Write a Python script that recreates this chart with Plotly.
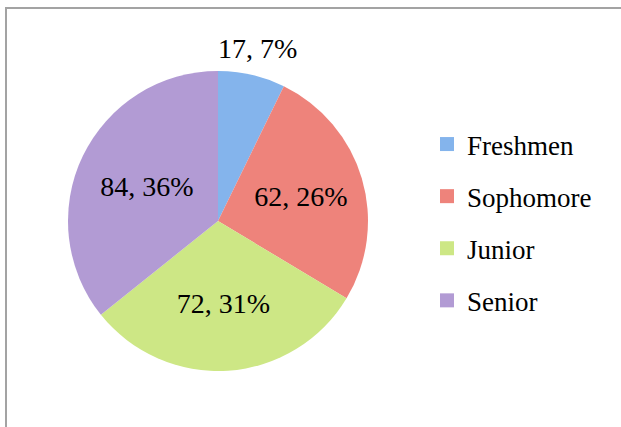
import math
import plotly.graph_objects as go

categories = ["Freshmen", "Sophomore", "Junior", "Senior"]
counts = [17, 62, 72, 84]
colors = ["#84b4ec", "#ee837b", "#cde785", "#b29bd4"]
label_positions = ["none", "inside", "inside", "inside"]

W, H = 621, 427
FONT = "Liberation Serif"
LABEL_SIZE = 28

fig = go.Figure()

cx, cy, r = 218, 221, 150
templates = ["" if p == "none" else "%{value}, %{percent:.0%}" for p in label_positions]
fig.add_trace(go.Pie(
    labels=categories,
    values=counts,
    sort=False,
    direction="clockwise",
    rotation=0,
    marker=dict(colors=colors, line=dict(width=0)),
    texttemplate=templates,
    textposition=label_positions,
    insidetextorientation="horizontal",
    textfont=dict(family=FONT, size=LABEL_SIZE, color="black"),
    domain=dict(x=[(cx - r) / W, (cx + r) / W], y=[1 - (cy + r) / H, 1 - (cy - r) / H]),
    showlegend=False,
    hoverinfo="label+value+percent",
))

# outside-end label for the small slice, placed along its mid-angle
total = sum(counts)
annotations = []
start = 0.0
for name, v, pos in zip(categories, counts, label_positions):
    frac = v / total
    mid = 2 * math.pi * (start + frac / 2)
    start += frac
    if pos == "none":
        R = 1.18 * r
        px = cx + R * math.sin(mid)
        py = cy - R * math.cos(mid)
        annotations.append(dict(
            x=px / W, y=1 - py / H, xref="paper", yref="paper",
            text=f"{v}, {round(100 * frac)}%", showarrow=False,
            xanchor="center", yanchor="middle",
            font=dict(family=FONT, size=LABEL_SIZE, color="black"),
        ))

for name, col in zip(categories, colors):
    fig.add_trace(go.Scatter(
        x=[None], y=[None], mode="markers", name=name,
        marker=dict(symbol="square", size=14, color=col),
        legendgroup=name,
    ))

fig.update_layout(
    width=W, height=H,
    margin=dict(l=0, r=0, t=0, b=0),
    paper_bgcolor="white", plot_bgcolor="white",
    xaxis=dict(visible=False), yaxis=dict(visible=False),
    legend=dict(
        x=427 / W, y=1 - 120 / H, xanchor="left", yanchor="top",
        font=dict(family=FONT, size=27, color="black"),
        tracegroupgap=14, bgcolor="rgba(0,0,0,0)",
    ),
    annotations=annotations,
    shapes=[dict(
        type="rect", xref="paper", yref="paper",
        x0=6 / W, x1=1.05, y0=-0.05, y1=1 - 8 / H,
        line=dict(color="#a3a3a3", width=2), fillcolor="rgba(0,0,0,0)", layer="below",
    )],
)

fig.write_html(
    "out.html",
    config={"displayModeBar": False},
    post_script="document.body.style.margin='0';",
)
